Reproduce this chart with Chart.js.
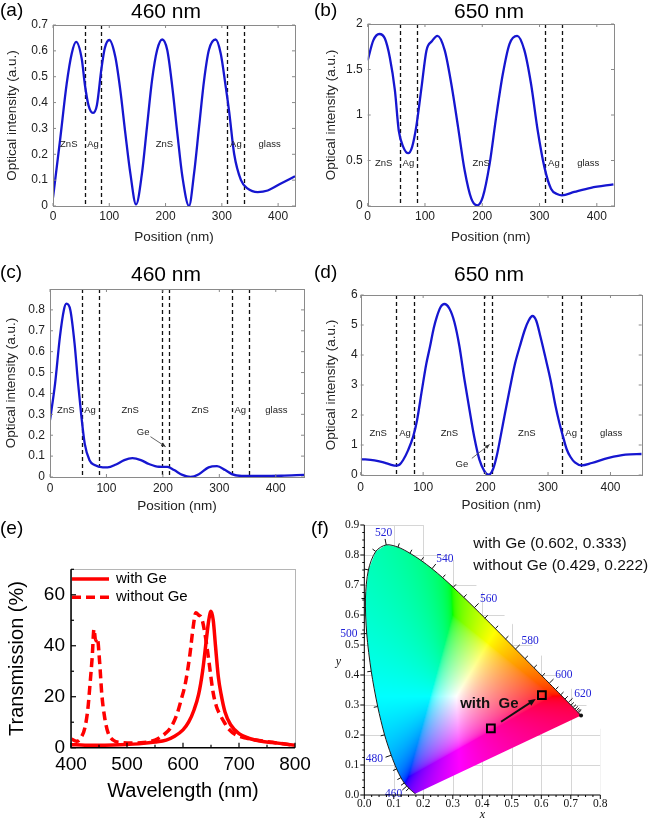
<!DOCTYPE html>
<html>
<head>
<meta charset="utf-8">
<script src="https://cdn.jsdelivr.net/npm/chart.js@4.4.1/dist/chart.umd.min.js"></script>
<style>
html,body{margin:0;padding:0;background:#fff;}
body{width:654px;height:819px;overflow:hidden;position:relative;font-family:"Liberation Sans",Arial,Helvetica,sans-serif;color:#000;}
canvas{position:absolute;}
.t{position:absolute;line-height:1;white-space:nowrap;}
.letter{font-size:19px;}
.ptitle{font-size:21px;transform:translateX(-50%);}
</style>
</head>
<body>
<canvas id="ca" width="330" height="250" style="left:0;top:0"></canvas>
<canvas id="cb" width="335" height="250" style="left:319px;top:0"></canvas>
<canvas id="cc" width="330" height="258" style="left:0;top:262px"></canvas>
<canvas id="cd" width="335" height="258" style="left:319px;top:262px"></canvas>
<canvas id="ce" width="330" height="268" style="left:0;top:540px"></canvas>
<canvas id="cf" width="339" height="312" style="left:315px;top:510px"></canvas>
<div class="t letter" style="left:0px;top:0px">(a)</div>
<div class="t ptitle" style="left:166px;top:0px">460 nm</div>
<div class="t letter" style="left:314px;top:0px">(b)</div>
<div class="t ptitle" style="left:489px;top:0px">650 nm</div>
<div class="t letter" style="left:0px;top:262px">(c)</div>
<div class="t ptitle" style="left:166px;top:263px">460 nm</div>
<div class="t letter" style="left:314px;top:262px">(d)</div>
<div class="t ptitle" style="left:489px;top:263px">650 nm</div>
<div class="t letter" style="left:0px;top:518px">(e)</div>
<div class="t letter" style="left:311px;top:518px">(f)</div>
<script>
const SANS = '"Liberation Sans", Arial, Helvetica, sans-serif';
const SERIF = '"Liberation Serif", "Times New Roman", Times, serif';

// ---------------- DATA ----------------
// (a) 460 nm, structure without Ge
const posA = [0,12.5,24.4,33.3,41,51,56.6,63,70.8,78,86,92,100,110.7,119.6,128.6,137.5,147.6,158,167,176,185,194,203,212,221,230,241.7,250.6,259.5,268.5,277,289,298,307,313,322,334,346,363.7,381.5,405,430];
const intA = [0.032,0.254,0.474,0.59,0.635,0.57,0.47,0.39,0.36,0.39,0.53,0.61,0.642,0.577,0.448,0.28,0.125,0.006,0.125,0.306,0.487,0.603,0.644,0.603,0.46,0.28,0.112,0.0,0.125,0.306,0.487,0.603,0.644,0.59,0.46,0.365,0.2,0.1,0.067,0.054,0.06,0.087,0.115];
// (b) 650 nm, structure without Ge
const posB = [0,9.8,20.3,30,38.7,47.5,54.2,62,70.7,77.6,85,93.9,102.6,112,121.7,134.5,146,157.7,169.3,180.9,191.3,201,212.8,224.3,235.9,247.5,260.9,273.6,285.2,296.8,308.4,320,331.6,339,360.6,389.6,429];
const intB = [1.6,1.82,1.89,1.84,1.63,1.27,0.83,0.65,0.58,0.65,0.88,1.3,1.71,1.81,1.87,1.71,1.34,0.87,0.39,0.08,0.007,0.1,0.46,0.98,1.45,1.78,1.87,1.71,1.34,0.83,0.43,0.19,0.128,0.117,0.154,0.2,0.238];
// (c) 460 nm, structure with Ge
const posC = [0,9,17.5,24.6,29,36,43.5,49.7,55.6,61.5,70,79,93.6,102,117,131.6,146,161,175.4,193,208,219.9,234.5,249,263.7,281,295.9,310.5,322,339.8,369,410,450];
const intC = [0.272,0.447,0.67,0.8,0.83,0.8,0.64,0.45,0.29,0.16,0.08,0.057,0.046,0.046,0.06,0.081,0.09,0.081,0.062,0.049,0.048,0.033,0.01,0,0.013,0.046,0.052,0.033,0.014,0.005,0.005,0.006,0.01];
// (d) 650 nm, structure with Ge
const posD = [0,22,38,49,56,62,68,76,84,90,98,105,111,117,122,128,134,142,150,158,166,174,182,190,198,205,212,218,224,231,239,247,255,263,269,275,281,288,296,304,312,318,324,330,336,343,354,370,397,424,450];
const intD = [0.53,0.49,0.41,0.34,0.31,0.34,0.5,0.83,1.28,1.8,2.83,3.7,4.28,4.9,5.28,5.6,5.7,5.55,5.1,4.3,3.2,2.2,1.25,0.52,0.13,0.01,0.2,0.65,1.28,2.05,2.9,3.7,4.3,4.85,5.15,5.3,5.15,4.6,3.9,3.17,2.3,1.75,1.28,0.85,0.6,0.42,0.32,0.4,0.57,0.68,0.7];

// layer boundaries (nm) and names
const boundsAB = [56, 86, 310, 340];
const namesAB = ['ZnS', 'Ag', 'ZnS', 'Ag', 'glass'];
const boundsCD = [56, 86, 198, 210, 322, 352];
const namesCD = ['ZnS', 'Ag', 'ZnS', '', 'ZnS', 'Ag', 'glass'];

// tick values
const posTicks = [0, 100, 200, 300, 400];
const yTicksA = [0, 0.1, 0.2, 0.3, 0.4, 0.5, 0.6, 0.7];
const yTicksB = [0, 0.5, 1, 1.5, 2];
const yTicksC = [0, 0.1, 0.2, 0.3, 0.4, 0.5, 0.6, 0.7, 0.8];
const yTicksD = [0, 1, 2, 3, 4, 5, 6];

// (e) transmission spectra
const wlWith = [400,425,450,475,500,525,550,570,585,600,610,620,628,635,641,646,650,654,658,663,668,675,685,700,720,740,760,780,800];
const tWith = [1.2,1.0,1.0,1.1,1.3,1.6,2.2,3.0,4.5,7,10,15,21,30,41,50,53.5,50,40,28,21,14,9,5.5,3.5,2.5,2,1.5,1.0];
const wlWithout = [400,410,418,425,430,434,438,441,444,447,451,455,460,466,475,490,510,530,550,565,577,589,597,604,612,618,623,628,633,639,645,654,660,666,675,681,695,714,730,749,770,795,800];
const tWithout = [3.5,2.5,4,8,15,25,36,46.5,42,43,34,21,12,6,3,2,1.8,2,3,5,7.5,13,19,25,36,47,53,52,51,45,36,21.4,16,13,9.5,7.5,5,3.7,3,2.4,1.8,1,0.8];
const wlTicks = [400, 500, 600, 700, 800];
const tTicks = [0, 20, 40, 60];

// (f) CIE 1931 spectral locus and colour coordinates
const cieWl = [380,385,390,395,400,405,410,415,420,425,430,435,440,445,450,455,460,465,470,475,480,485,490,495,500,505,510,515,520,525,530,535,540,545,550,555,560,565,570,575,580,585,590,595,600,605,610,615,620,625,630,635,640,645,650,660,680,700];
const cieX = [0.1741,0.1740,0.1738,0.1736,0.1733,0.1730,0.1726,0.1721,0.1714,0.1703,0.1689,0.1669,0.1644,0.1611,0.1566,0.1510,0.1440,0.1355,0.1241,0.1096,0.0913,0.0687,0.0454,0.0235,0.0082,0.0039,0.0139,0.0389,0.0743,0.1142,0.1547,0.1929,0.2296,0.2658,0.3016,0.3373,0.3731,0.4087,0.4441,0.4788,0.5125,0.5448,0.5752,0.6029,0.6270,0.6482,0.6658,0.6801,0.6915,0.7006,0.7079,0.7140,0.7190,0.7230,0.7260,0.7300,0.7334,0.7347];
const cieY = [0.0050,0.0050,0.0049,0.0049,0.0048,0.0048,0.0048,0.0048,0.0051,0.0058,0.0069,0.0086,0.0109,0.0138,0.0177,0.0227,0.0297,0.0399,0.0578,0.0868,0.1327,0.2007,0.2950,0.4127,0.5384,0.6548,0.7502,0.8120,0.8338,0.8262,0.8059,0.7816,0.7543,0.7243,0.6923,0.6589,0.6245,0.5896,0.5547,0.5202,0.4866,0.4544,0.4242,0.3965,0.3725,0.3514,0.3340,0.3197,0.3083,0.2993,0.2920,0.2859,0.2809,0.2770,0.2740,0.2700,0.2666,0.2653];
const cieLabelWl = [460, 480, 500, 520, 540, 560, 580, 600, 620];
const markerNames = ['with Ge', 'without Ge'];
const markerX = [0.602, 0.429];
const markerY = [0.333, 0.222];
const cxTicks = [0, 0.1, 0.2, 0.3, 0.4, 0.5, 0.6, 0.7, 0.8];
const cyTicks = [0, 0.1, 0.2, 0.3, 0.4, 0.5, 0.6, 0.7, 0.8, 0.9];

// ---------------- PLUGINS ----------------
const framePlugin = {
  id: 'frame',
  afterDraw(chart, args, o) {
    if (!o || !o.enabled) return;
    const ctx = chart.ctx, a = chart.chartArea, xs = chart.scales.x, ys = chart.scales.y;
    ctx.save();
    if (o.boxColor) {
      ctx.strokeStyle = o.boxColor; ctx.lineWidth = o.boxWidth || 1;
      ctx.strokeRect(Math.round(a.left) + 0.5, Math.round(a.top) + 0.5, Math.round(a.right - a.left), Math.round(a.bottom - a.top));
    }
    if (o.axisColor) {
      ctx.strokeStyle = o.axisColor; ctx.lineWidth = o.axisWidth || 1;
      ctx.beginPath(); ctx.moveTo(a.left, a.top); ctx.lineTo(a.left, a.bottom); ctx.lineTo(a.right, a.bottom); ctx.stroke();
    }
    ctx.strokeStyle = o.tickColor; ctx.lineWidth = o.tickWidth || 1;
    const dir = o.inward ? 1 : -1;
    (o.sides || []).forEach(side => {
      const horiz = side === 'bottom' || side === 'top';
      const sc = horiz ? xs : ys;
      const vals = sc.ticks.map(t => t.value);
      const list = vals.map(v => [v, o.len]);
      if (o.minor && vals.length > 1) {
        const step = (vals[1] - vals[0]) / (o.minor + 1);
        const i0 = Math.ceil((sc.min - vals[0]) / step - 1e-6), i1 = Math.floor((sc.max - vals[0]) / step + 1e-6);
        for (let i = i0; i <= i1; i++) {
          if (((i % (o.minor + 1)) + (o.minor + 1)) % (o.minor + 1) === 0) continue;
          list.push([vals[0] + i * step, o.minorLen]);
        }
      }
      list.forEach(([v, len]) => {
        const p = sc.getPixelForValue(v);
        ctx.beginPath();
        if (side === 'bottom') { ctx.moveTo(p, a.bottom); ctx.lineTo(p, a.bottom - dir * len); }
        else if (side === 'top') { ctx.moveTo(p, a.top); ctx.lineTo(p, a.top + dir * len); }
        else if (side === 'left') { ctx.moveTo(a.left, p); ctx.lineTo(a.left + dir * len, p); }
        else { ctx.moveTo(a.right, p); ctx.lineTo(a.right - dir * len, p); }
        ctx.stroke();
      });
    });
    ctx.restore();
  }
};

function arrowHead(ctx, x0, y0, x1, y1, size) {
  const ang = Math.atan2(y1 - y0, x1 - x0);
  ctx.beginPath();
  ctx.moveTo(x1, y1);
  ctx.lineTo(x1 - size * Math.cos(ang - 0.4), y1 - size * Math.sin(ang - 0.4));
  ctx.lineTo(x1 - size * Math.cos(ang + 0.4), y1 - size * Math.sin(ang + 0.4));
  ctx.closePath(); ctx.fill();
}

const layerPlugin = {
  id: 'layers',
  beforeDatasetsDraw(chart, args, o) {
    if (!o || !o.bounds) return;
    const ctx = chart.ctx, a = chart.chartArea, xs = chart.scales.x;
    ctx.save();
    ctx.strokeStyle = '#111'; ctx.lineWidth = 1.3; ctx.setLineDash([4, 3]);
    o.bounds.forEach(b => {
      const p = Math.round(xs.getPixelForValue(b)) + 0.5;
      ctx.beginPath(); ctx.moveTo(p, a.top); ctx.lineTo(p, a.bottom); ctx.stroke();
    });
    ctx.restore();
  },
  afterDatasetsDraw(chart, args, o) {
    if (!o || !o.bounds) return;
    const ctx = chart.ctx, xs = chart.scales.x, ys = chart.scales.y;
    const edges = [xs.min].concat(o.bounds, [xs.max]);
    ctx.save();
    ctx.fillStyle = '#222'; ctx.font = '9.5px ' + SANS; ctx.textAlign = 'center'; ctx.textBaseline = 'middle';
    o.names.forEach((n, i) => {
      if (!n) return;
      const mid = (edges[i] + edges[i + 1]) / 2;
      ctx.fillText(n, xs.getPixelForValue(mid), ys.getPixelForValue(o.labelY));
    });
    if (o.ge) {
      const g = o.ge;
      ctx.fillText('Ge', xs.getPixelForValue(g.text[0]), ys.getPixelForValue(g.text[1]));
      const x0 = xs.getPixelForValue(g.from[0]), y0 = ys.getPixelForValue(g.from[1]);
      const x1 = xs.getPixelForValue(g.to[0]), y1 = ys.getPixelForValue(g.to[1]);
      ctx.strokeStyle = '#555'; ctx.fillStyle = '#333'; ctx.lineWidth = 0.9;
      ctx.beginPath(); ctx.moveTo(x0, y0); ctx.lineTo(x1, y1); ctx.stroke();
      arrowHead(ctx, x0, y0, x1, y1, 5);
    }
    ctx.restore();
  }
};

const inLegendPlugin = {
  id: 'inLegend',
  afterDatasetsDraw(chart, args, o) {
    if (!o || !o.show) return;
    const ctx = chart.ctx, a = chart.chartArea;
    chart.data.datasets.forEach((ds, i) => {
      const y = a.top + o.y0 + i * o.dy;
      ctx.save();
      ctx.strokeStyle = ds.borderColor; ctx.lineWidth = ds.borderWidth; ctx.setLineDash(ds.borderDash || []);
      ctx.beginPath(); ctx.moveTo(a.left + o.x0, y); ctx.lineTo(a.left + o.x0 + o.len, y); ctx.stroke();
      ctx.restore();
      ctx.save();
      ctx.fillStyle = '#000'; ctx.font = o.size + 'px ' + SANS; ctx.textBaseline = 'middle'; ctx.textAlign = 'left';
      ctx.fillText(ds.label, a.left + o.x0 + o.len + o.gap, y);
      ctx.restore();
    });
  }
};

// chromaticity -> display colour (out-of-gamut colours desaturated by adding white)
function xyToRgb(x, y) {
  if (y < 1e-4) y = 1e-4;
  const X = x / y, Y = 1, Z = (1 - x - y) / y;
  let r = 3.2406 * X - 1.5372 * Y - 0.4986 * Z;
  let g = -0.9689 * X + 1.8758 * Y + 0.0415 * Z;
  let b = 0.0557 * X - 0.2040 * Y + 1.0570 * Z;
  const mn = Math.min(r, g, b, 0);
  r -= mn; g -= mn; b -= mn;
  const m = Math.max(r, g, b) || 1;
  const gam = v => v <= 0.0031308 ? 12.92 * v : 1.055 * Math.pow(v, 1 / 2.4) - 0.055;
  return [gam(r / m) * 255, gam(g / m) * 255, gam(b / m) * 255];
}

const ciePlugin = {
  id: 'cie',
  beforeDatasetsDraw(chart, args, o) {
    if (!o || !o.show) return;
    const ctx = chart.ctx, a = chart.chartArea, xs = chart.scales.x, ys = chart.scales.y;
    ctx.save();
    ctx.beginPath();
    o.gridClip.forEach((p, i) => {
      const px = xs.getPixelForValue(p[0]), py = ys.getPixelForValue(p[1]);
      if (i) ctx.lineTo(px, py); else ctx.moveTo(px, py);
    });
    ctx.closePath(); ctx.clip();
    ctx.strokeStyle = '#d6d6d6'; ctx.lineWidth = 1;
    xs.ticks.forEach(t => { const p = Math.round(xs.getPixelForValue(t.value)) + 0.5; ctx.beginPath(); ctx.moveTo(p, a.top); ctx.lineTo(p, a.bottom); ctx.stroke(); });
    ys.ticks.forEach(t => { const p = Math.round(ys.getPixelForValue(t.value)) + 0.5; ctx.beginPath(); ctx.moveTo(a.left, p); ctx.lineTo(a.right, p); ctx.stroke(); });
    ctx.restore();
    const w = Math.ceil(a.right - a.left), h = Math.ceil(a.bottom - a.top);
    const off = document.createElement('canvas'); off.width = w; off.height = h;
    const octx = off.getContext('2d'); const img = octx.createImageData(w, h);
    for (let j = 0; j < h; j++) {
      const cy = ys.getValueForPixel(a.top + j + 0.5);
      for (let i = 0; i < w; i++) {
        const cx = xs.getValueForPixel(a.left + i + 0.5);
        const c = xyToRgb(cx, cy); const k = (j * w + i) * 4;
        img.data[k] = c[0]; img.data[k + 1] = c[1]; img.data[k + 2] = c[2]; img.data[k + 3] = 255;
      }
    }
    octx.putImageData(img, 0, 0);
    const pts = chart.data.datasets[0].data;
    ctx.save();
    ctx.beginPath();
    pts.forEach((p, i) => {
      const px = xs.getPixelForValue(p.x), py = ys.getPixelForValue(p.y);
      if (i) ctx.lineTo(px, py); else ctx.moveTo(px, py);
    });
    ctx.closePath(); ctx.clip();
    ctx.drawImage(off, a.left, a.top);
    ctx.restore();
  },
  afterDatasetsDraw(chart, args, o) {
    if (!o || !o.show) return;
    const ctx = chart.ctx, a = chart.chartArea, xs = chart.scales.x, ys = chart.scales.y;
    const pts = chart.data.datasets[0].data;
    const px = pts.map(p => xs.getPixelForValue(p.x)), py = pts.map(p => ys.getPixelForValue(p.y));
    ctx.save();
    ctx.strokeStyle = '#111'; ctx.lineWidth = 1;
    ctx.font = '11.5px ' + SERIF; ctx.fillStyle = '#2323d8'; ctx.textAlign = 'center'; ctx.textBaseline = 'middle';
    cieWl.forEach((wl, i) => {
      if (wl < o.tickFrom || wl > o.tickTo || i === 0 || i === cieWl.length - 1) return;
      let tx = px[i + 1] - px[i - 1], ty = py[i + 1] - py[i - 1];
      const L = Math.hypot(tx, ty) || 1; tx /= L; ty /= L;
      const nx = ty, ny = -tx;
      const labelled = cieLabelWl.indexOf(wl) >= 0;
      const len = labelled ? 6 : 4;
      ctx.beginPath(); ctx.moveTo(px[i], py[i]); ctx.lineTo(px[i] + nx * len, py[i] + ny * len); ctx.stroke();
      if (labelled) ctx.fillText(String(wl), px[i] + nx * 19 + 1, py[i] + ny * 12);
    });
    // tip marker at the red end
    const last = px.length - 1;
    ctx.fillStyle = '#111';
    ctx.beginPath(); ctx.arc(px[last], py[last], 2, 0, Math.PI * 2); ctx.fill();
    // arrow from "without Ge" to "with Ge"
    const ax = markerX[1] + 0.2 * (markerX[0] - markerX[1]), ay = markerY[1] + 0.2 * (markerY[0] - markerY[1]);
    const bx = markerX[1] + 0.88 * (markerX[0] - markerX[1]), by = markerY[1] + 0.88 * (markerY[0] - markerY[1]);
    const x0 = xs.getPixelForValue(ax), y0 = ys.getPixelForValue(ay), x1 = xs.getPixelForValue(bx), y1 = ys.getPixelForValue(by);
    ctx.strokeStyle = '#111'; ctx.fillStyle = '#111'; ctx.lineWidth = 2;
    ctx.beginPath(); ctx.moveTo(x0, y0); ctx.lineTo(x1 - (x1 - x0) * 0.08, y1 - (y1 - y0) * 0.08); ctx.stroke();
    arrowHead(ctx, x0, y0, x1, y1, 8);
    ctx.fillStyle = '#111'; ctx.textAlign = 'left'; ctx.textBaseline = 'middle';
    ctx.font = 'bold 15px ' + SANS;
    ctx.fillText('with  Ge', xs.getPixelForValue(o.boldAt[0]), ys.getPixelForValue(o.boldAt[1]));
    ctx.font = '15.5px ' + SANS;
    markerNames.forEach((n, i) => {
      ctx.fillText(n + ' (' + markerX[i].toFixed(3) + ', ' + markerY[i].toFixed(3) + ')', a.left + o.textDx, a.top + o.textDy + i * 22.7);
    });
    ctx.font = 'italic 12px ' + SERIF; ctx.textAlign = 'center';
    ctx.fillText('y', a.left - 26, (a.top + a.bottom) / 2 + 2);
    ctx.restore();
  }
};

Chart.register(framePlugin, layerPlugin, inLegendPlugin, ciePlugin);
Chart.defaults.font.family = SANS;
Chart.defaults.color = '#000';

function profileChart(id, xs, ys, c) {
  return new Chart(document.getElementById(id), {
    type: 'scatter',
    data: { datasets: [{ label: c.label, data: xs.map((x, i) => ({ x: x, y: ys[i] })), showLine: true,
      borderColor: '#1616d0', borderWidth: 2.3, pointRadius: 0, cubicInterpolationMode: 'monotone', fill: false }] },
    options: {
      responsive: false, animation: false, events: [],
      layout: { padding: c.pad },
      plugins: {
        legend: { display: false }, tooltip: { enabled: false },
        frame: { enabled: true, boxColor: '#8a8a8a', boxWidth: 1, tickColor: '#8a8a8a', inward: true, len: 3, sides: ['bottom', 'top', 'left', 'right'] },
        layers: { bounds: c.bounds, names: c.names, labelY: c.labelY, ge: c.ge || null }
      },
      scales: {
        x: { type: 'linear', min: 0, max: c.xMax, grid: { display: false, drawTicks: false }, border: { display: false },
          afterBuildTicks: s => { s.ticks = posTicks.map(v => ({ value: v })); },
          afterFit: s => { s.height = c.xH; },
          ticks: { padding: c.xTickPad, autoSkip: false, maxRotation: 0, color: '#222', font: { size: 12, family: SANS }, callback: v => String(+v.toFixed(3)) },
          title: { display: true, text: 'Position (nm)', color: '#222', font: { size: 13.5, family: SANS }, padding: { top: 0, bottom: c.xTitlePad } } },
        y: { type: 'linear', min: 0, max: c.yMax, grid: { display: false, drawTicks: false }, border: { display: false },
          afterBuildTicks: s => { s.ticks = c.yTicks.map(v => ({ value: v })); },
          afterFit: s => { s.width = c.yW; },
          ticks: { padding: c.yTickPad, autoSkip: false, color: '#222', font: { size: 12, family: SANS }, callback: v => String(+v.toFixed(3)) },
          title: { display: true, text: 'Optical intensity (a.u.)', color: '#222', font: { size: 13.5, family: SANS }, padding: { top: c.yTitlePad, bottom: 0 } } }
      }
    }
  });
}

profileChart('ca', posA, intA, { label: '460 nm without Ge', xMax: 430, yMax: 0.7, yTicks: yTicksA,
  pad: { left: 0, right: 35, top: 25, bottom: 0 }, yW: 53, xH: 44, xTickPad: 3, yTickPad: 5, xTitlePad: 4.6, yTitlePad: 4,
  bounds: boundsAB, names: namesAB, labelY: 0.238 });
profileChart('cb', posB, intB, { label: '650 nm without Ge', xMax: 430, yMax: 2, yTicks: yTicksB,
  pad: { left: 0, right: 40, top: 24, bottom: 0 }, yW: 48.7, xH: 44, xTickPad: 3, yTickPad: 5, xTitlePad: 4.6, yTitlePad: 4,
  bounds: boundsAB, names: namesAB, labelY: 0.47 });
profileChart('cc', posC, intC, { label: '460 nm with Ge', xMax: 450, yMax: 0.9, yTicks: yTicksC,
  pad: { left: 0, right: 26, top: 27, bottom: 0 }, yW: 50, xH: 43, xTickPad: 4, yTickPad: 5, xTitlePad: 5.6, yTitlePad: 3.3,
  bounds: boundsCD, names: namesCD, labelY: 0.32, ge: { text: [165, 0.216], from: [178, 0.193], to: [205, 0.145] } });
profileChart('cd', posD, intD, { label: '650 nm with Ge', xMax: 450, yMax: 6, yTicks: yTicksD,
  pad: { left: 0, right: 12.3, top: 33, bottom: 0 }, yW: 41.7, xH: 45, xTickPad: 5.7, yTickPad: 3, xTitlePad: 6.6, yTitlePad: 4,
  bounds: boundsCD, names: namesCD, labelY: 1.39, ge: { text: [162, 0.366], from: [178, 0.555], to: [206.5, 1.02] } });

// (e)
new Chart(document.getElementById('ce'), {
  type: 'scatter',
  data: { datasets: [
    { label: 'with Ge', data: wlWith.map((x, i) => ({ x: x, y: tWith[i] })), showLine: true, borderColor: '#ff0000', borderWidth: 3.5, pointRadius: 0, cubicInterpolationMode: 'monotone', fill: false },
    { label: 'without Ge', data: wlWithout.map((x, i) => ({ x: x, y: tWithout[i] })), showLine: true, borderColor: '#ff0000', borderWidth: 3.5, borderDash: [9, 5], pointRadius: 0, cubicInterpolationMode: 'monotone', fill: false }
  ] },
  options: {
    responsive: false, animation: false, events: [],
    layout: { padding: { left: 0, right: 35, top: 29.3, bottom: 0 } },
    plugins: {
      legend: { display: false }, tooltip: { enabled: false },
      frame: { enabled: true, boxColor: '#b5b5b5', boxWidth: 1, axisColor: '#000', axisWidth: 1.5, tickColor: '#000', tickWidth: 1.2, inward: true, len: 5, minor: 1, minorLen: 3, sides: ['bottom', 'left'] },
      inLegend: { show: true, x0: 1, y0: 9.7, dy: 18.3, len: 37, gap: 7, size: 15 }
    },
    scales: {
      x: { type: 'linear', min: 400, max: 800, grid: { display: false, drawTicks: false }, border: { display: false },
        afterBuildTicks: s => { s.ticks = wlTicks.map(v => ({ value: v })); },
        afterFit: s => { s.height = 60.3; },
        ticks: { padding: 5.9, autoSkip: false, maxRotation: 0, color: '#000', font: { size: 19, family: SANS } },
        title: { display: true, text: 'Wavelength (nm)', color: '#000', font: { size: 20, family: SANS }, padding: { top: 0, bottom: 4.3 } } },
      y: { type: 'linear', min: 0, max: 70, grid: { display: false, drawTicks: false }, border: { display: false },
        afterBuildTicks: s => { s.ticks = tTicks.map(v => ({ value: v })); },
        afterFit: s => { s.width = 71; },
        ticks: { padding: 6, autoSkip: false, color: '#000', font: { size: 19, family: SANS } },
        title: { display: true, text: 'Transmission (%)', color: '#000', font: { size: 20, family: SANS }, padding: { top: 5.5, bottom: 0 } } }
    }
  }
});

// (f)
new Chart(document.getElementById('cf'), {
  type: 'scatter',
  data: { datasets: [
    { label: 'spectral locus', data: cieX.map((x, i) => ({ x: x, y: cieY[i] })), showLine: true, borderColor: '#1a1a1a', borderWidth: 1, pointRadius: 0, tension: 0.3, fill: false },
    { label: 'chromaticity', data: markerX.map((x, i) => ({ x: x, y: markerY[i] })), showLine: false, pointStyle: 'rect', pointRadius: 5.5, borderColor: '#000', borderWidth: 2, backgroundColor: 'rgba(0,0,0,0)' }
  ] },
  options: {
    responsive: false, animation: false, events: [],
    layout: { padding: { left: 0, right: 53.7, top: 15, bottom: 0 } },
    plugins: {
      legend: { display: false }, tooltip: { enabled: false },
      frame: { enabled: true, axisColor: '#000', axisWidth: 1, tickColor: '#000', inward: false, len: 4, minor: 3, minorLen: 2, sides: ['bottom', 'left'] },
      cie: { show: true, tickFrom: 455, tickTo: 650, boldAt: [0.325, 0.303], textDx: 109, textDy: 18.3,
        gridClip: [[0, 0], [0, 0.9], [0.2, 0.9], [0.35, 0.73], [0.55, 0.52], [0.77, 0.28], [0.8, 0.22], [0.8, 0]] }
    },
    scales: {
      x: { type: 'linear', min: 0, max: 0.8, grid: { display: false, drawTicks: false }, border: { display: false },
        afterBuildTicks: s => { s.ticks = cxTicks.map(v => ({ value: v })); },
        afterFit: s => { s.height = 27; },
        ticks: { padding: 2, autoSkip: false, maxRotation: 0, color: '#111', font: { size: 11.5, family: SERIF }, callback: v => v.toFixed(1) },
        title: { display: true, text: 'x', color: '#111', font: { size: 12, family: SERIF, style: 'italic' }, padding: { top: 0, bottom: 0 } } },
      y: { type: 'linear', min: 0, max: 0.9, grid: { display: false, drawTicks: false }, border: { display: false },
        afterBuildTicks: s => { s.ticks = cyTicks.map(v => ({ value: v })); },
        afterFit: s => { s.width = 49.3; },
        ticks: { padding: 5, autoSkip: false, color: '#111', font: { size: 11.5, family: SERIF }, callback: v => v.toFixed(1) },
        title: { display: false } }
    }
  }
});
</script>
</body>
</html>
